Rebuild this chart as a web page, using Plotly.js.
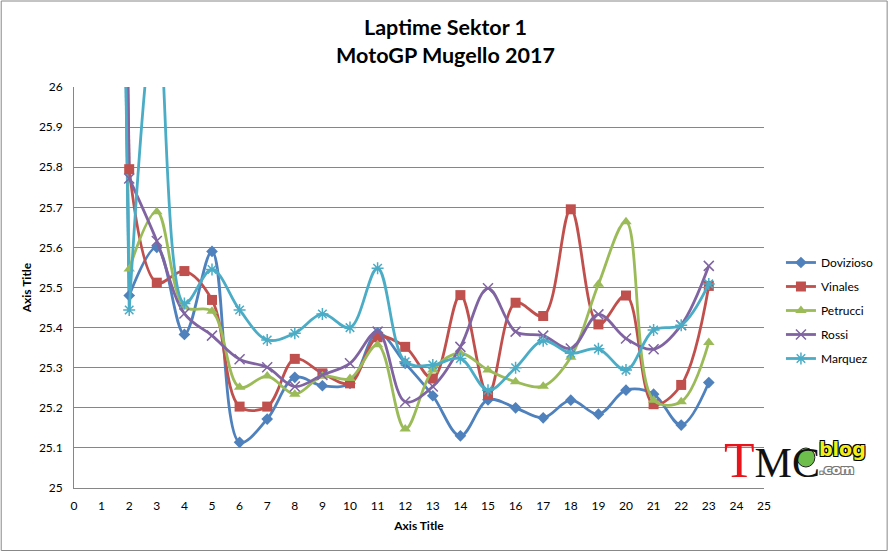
<!DOCTYPE html>
<html>
<head>
<meta charset="utf-8">
<script src="https://cdn.plot.ly/plotly-3.0.1.min.js"></script>
<style>
  html, body { margin: 0; padding: 0; background: #fff; }
  #chart { width: 891px; height: 553px; }
</style>
</head>
<body>
<div id="chart"></div>
<script>
// laps 1..23 (lap 1 is far above the top of the chart)
const laps = [1, 2, 3, 4, 5, 6, 7, 8, 9, 10, 11, 12, 13, 14, 15, 16, 17, 18, 19, 20, 21, 22, 23];

const dovizioso = [30.1, 25.48, 25.60, 25.383, 25.59, 25.114, 25.172, 25.276, 25.255, 25.261, 25.387, 25.311,
  25.23, 25.13, 25.22, 25.20, 25.175, 25.219, 25.184, 25.244, 25.234, 25.157, 25.263];
const vinales = [30.4, 25.795, 25.512, 25.541, 25.469, 25.203, 25.203, 25.322, 25.286, 25.261, 25.376, 25.352,
  25.273, 25.481, 25.232, 25.462, 25.429, 25.695, 25.408, 25.48, 25.209, 25.257, 25.504];
const petrucci = [29.9, 25.546, 25.689, 25.452, 25.441, 25.251, 25.279, 25.234, 25.279, 25.273, 25.357, 25.147,
  25.294, 25.336, 25.294, 25.265, 25.254, 25.326, 25.508, 25.664, 25.219, 25.215, 25.363];
const rossi = [30.6, 25.772, 25.616, 25.435, 25.38, 25.321, 25.301, 25.253, 25.282, 25.311, 25.39, 25.215,
  25.253, 25.352, 25.498, 25.39, 25.38, 25.348, 25.433, 25.373, 25.346, 25.406, 25.554];
const marquez = [30.2, 25.444, 26.2, 25.46, 25.545, 25.444, 25.369, 25.386, 25.434, 25.40, 25.548, 25.315,
  25.307, 25.323, 25.244, 25.30, 25.367, 25.336, 25.347, 25.294, 25.394, 25.406, 25.509];

const riders = ["Dovizioso", "Vinales", "Petrucci", "Rossi", "Marquez"];
const series = [dovizioso, vinales, petrucci, rossi, marquez];
const colors = ["#4F81BD", "#C0504D", "#9BBB59", "#8064A2", "#4BACC6"];
const symbols = ["diamond", "square", "triangle-up", "x-thin-open", "asterisk-open"];
const sizes = [9, 10, 10, 10, 10];

const font = "Lato, 'Open Sans', sans-serif";

// lap 1 -> lap 2 drawn straight (it shoots off the top), the rest smoothed
const traces = [];
riders.forEach((name, i) => {
  traces.push({
    x: laps.slice(0, 2),
    y: series[i].slice(0, 2),
    type: 'scatter',
    mode: 'lines',
    showlegend: false,
    hoverinfo: 'skip',
    legendgroup: name,
    line: { color: colors[i], width: 2.8 }
  });
});
riders.forEach((name, i) => {
  traces.push({
    x: laps.slice(1),
    y: series[i].slice(1),
    name: name,
    type: 'scatter',
    mode: 'lines+markers',
    legendgroup: name,
    line: { color: colors[i], width: 2.8, shape: 'spline', smoothing: 1 },
    marker: {
      symbol: symbols[i],
      size: sizes[i],
      color: colors[i],
      line: { color: colors[i], width: i >= 3 ? 1.5 : 0 }
    }
  });
});

// pixel -> paper coords, for the logo and frame
const px = x => (x - 74) / 692;
const py = y => (488 - y) / 401;

const layout = {
  width: 891,
  height: 553,
  margin: { l: 74, r: 125, t: 87, b: 65 },
  paper_bgcolor: '#fff',
  plot_bgcolor: '#fff',
  font: { family: font, size: 12, color: '#000' },
  title: {
    text: 'Laptime Sektor 1<br>MotoGP Mugello 2017',
    font: { family: font, size: 21.5, color: '#000', weight: 'bold' },
    x: 0.5, xanchor: 'center',
    y: 0.937, yanchor: 'top'
  },
  xaxis: {
    range: [0, 25],
    dtick: 1,
    tick0: 0,
    showgrid: false,
    zeroline: false,
    showline: true,
    linecolor: '#868686',
    linewidth: 1,
    ticks: '',
    ticklabelstandoff: 7,
    tickfont: { family: font, size: 12, color: '#000' },
    title: { text: 'Axis Title', font: { family: font, size: 12, weight: 'bold' }, standoff: 9 }
  },
  yaxis: {
    range: [25, 26],
    dtick: 0.1,
    tick0: 25,
    showgrid: true,
    gridcolor: '#868686',
    gridwidth: 1,
    zeroline: false,
    showline: true,
    linecolor: '#868686',
    ticks: '',
    ticklabelstandoff: 8,
    tickfont: { family: font, size: 12, color: '#000' },
    title: { text: 'Axis Title', font: { family: font, size: 12, weight: 'bold' }, standoff: 4 }
  },
  legend: {
    x: px(783), y: py(248),
    xanchor: 'left', yanchor: 'top',
    font: { family: font, size: 12, color: '#000' },
    tracegroupgap: 5,
    traceorder: 'grouped',
    bgcolor: 'rgba(0,0,0,0)'
  },
  shapes: [
    { type: 'rect', xref: 'paper', yref: 'paper',
      x0: px(1), x1: px(889.5), y0: py(550.5), y1: py(1),
      line: { color: '#888', width: 1 }, fillcolor: 'rgba(0,0,0,0)' },
    { type: 'circle', xref: 'paper', yref: 'paper',
      x0: px(799), x1: px(817), y0: py(467), y1: py(448),
      line: { color: '#222', width: 1 }, fillcolor: '#6DBE4B' }
  ],
  annotations: [
    { xref: 'paper', yref: 'paper', x: px(724), y: py(460), xanchor: 'left', yanchor: 'middle',
      text: '<span style="color:#E8141B;font-size:50px">T</span>MC', showarrow: false,
      font: { family: "'Liberation Serif', serif", size: 42, color: '#111' } },
    { xref: 'paper', yref: 'paper', x: px(819), y: py(449), xanchor: 'left', yanchor: 'middle',
      text: 'blog', showarrow: false,
      font: { family: "'DejaVu Sans', sans-serif", size: 19, color: '#F5EE16', weight: 'bold',
        shadow: '1px 1px 0 #000, -1px -1px 0 #000, 1px -1px 0 #000, -1px 1px 0 #000' } },
    { xref: 'paper', yref: 'paper', x: px(819), y: py(469), xanchor: 'left', yanchor: 'middle',
      text: '.com', showarrow: false,
      font: { family: "'DejaVu Sans', sans-serif", size: 13, color: '#fff', weight: 'bold',
        shadow: '1px 1px 0 #777, -1px -1px 0 #777, 1px -1px 0 #777, -1px 1px 0 #777' } }
  ]
};

Plotly.newPlot('chart', traces, layout, { displayModeBar: false, staticPlot: true });
</script>
</body>
</html>
